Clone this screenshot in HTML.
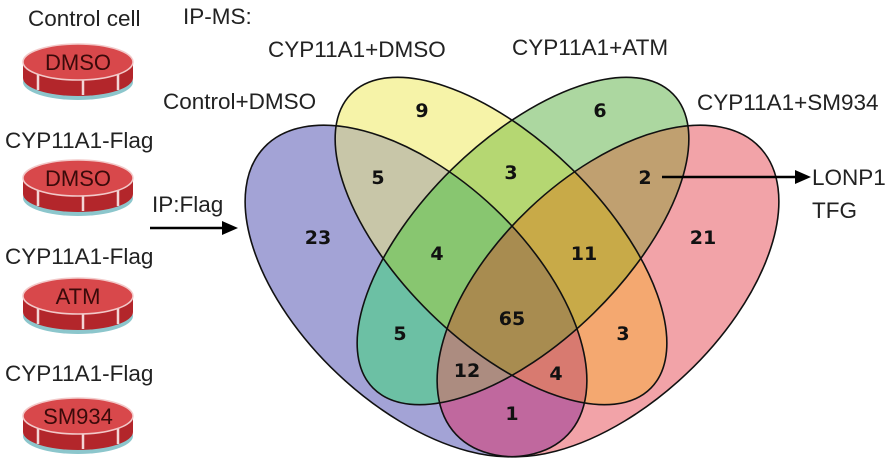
<!DOCTYPE html>
<html><head><meta charset="utf-8"><style>
html,body{margin:0;padding:0;background:#fff;overflow:hidden;width:893px;height:465px;}
svg{display:block;font-family:"Liberation Sans",sans-serif;}
.n{font-weight:bold;font-size:19px;text-anchor:middle;fill:#111;font-family:"DejaVu Sans","Liberation Sans",sans-serif;}
.l{font-size:22.5px;fill:#222;}
.d{font-size:22px;fill:#3a0a0a;text-anchor:middle;}
</style></head><body>
<svg width="893" height="465" viewBox="0 0 893 465" xmlns="http://www.w3.org/2000/svg">
<defs>
<g id="dish">
  <ellipse cx="0" cy="20" rx="55" ry="18" fill="#8cc6cc"/>
  <path d="M-55 0 L-55 16 A55 18 0 0 0 55 16 L55 0 Z" fill="#b3262b"/>
  <path d="M-40 12 L-40 28 M5 17 L5 33 M40 12 L40 28" stroke="#f3d6d6" stroke-width="2.5"/>
  <ellipse cx="0" cy="0" rx="55" ry="18" fill="#d8484b" stroke="#f2c9c9" stroke-width="1.5"/>
</g>
<ellipse id="eB" cx="416" cy="291" rx="209" ry="114" transform="rotate(43.4 416 291)"/>
<ellipse id="eY" cx="501" cy="241" rx="210" ry="101" transform="rotate(44.4 501 241)"/>
<ellipse id="eG" cx="523" cy="241" rx="210" ry="101" transform="rotate(-44.4 523 241)"/>
<ellipse id="eR" cx="608" cy="291" rx="209" ry="114" transform="rotate(-43.4 608 291)"/>
<clipPath id="cB"><use href="#eB"/></clipPath>
<clipPath id="cY"><use href="#eY"/></clipPath>
<clipPath id="cG"><use href="#eG"/></clipPath>
<clipPath id="cR"><use href="#eR"/></clipPath>
</defs>

<text class="l" x="28" y="26">Control cell</text>
<use href="#dish" x="78" y="62"/>
<text class="d" x="78" y="70">DMSO</text>

<text class="l" x="5" y="148">CYP11A1-Flag</text>
<use href="#dish" x="78" y="178"/>
<text class="d" x="78" y="186">DMSO</text>

<text class="l" x="5" y="264">CYP11A1-Flag</text>
<use href="#dish" x="78" y="296"/>
<text class="d" x="78" y="304">ATM</text>

<text class="l" x="5" y="381">CYP11A1-Flag</text>
<use href="#dish" x="78" y="416"/>
<text class="d" x="78" y="424">SM934</text>

<text class="l" x="183" y="24">IP-MS:</text>
<text class="l" x="152" y="212">IP:Flag</text>
<line x1="150" y1="228" x2="224" y2="228" stroke="#000" stroke-width="2.5"/>
<polygon points="238,228 222,221 222,235" fill="#000"/>

<text class="l" x="268" y="57">CYP11A1+DMSO</text>
<text class="l" x="512" y="55">CYP11A1+ATM</text>
<text class="l" x="163" y="109">Control+DMSO</text>
<text class="l" x="697" y="110">CYP11A1+SM934</text>

<!-- singles -->
<use href="#eB" fill="#a3a3d6"/>
<use href="#eR" fill="#f2a3a8"/>
<use href="#eY" fill="#f6f3a8"/>
<use href="#eG" fill="#acd7a0"/>
<!-- pairs -->
<g clip-path="url(#cB)"><use href="#eY" fill="#c8c6a8"/><use href="#eG" fill="#6cc0a4"/><use href="#eR" fill="#c0689e"/></g>
<g clip-path="url(#cY)"><use href="#eG" fill="#b5d772"/><use href="#eR" fill="#f4a870"/></g>
<g clip-path="url(#cG)"><use href="#eR" fill="#c0a070"/></g>
<!-- triples -->
<g clip-path="url(#cB)"><g clip-path="url(#cY)"><use href="#eG" fill="#88c670"/><use href="#eR" fill="#d87a70"/></g></g>
<g clip-path="url(#cB)"><g clip-path="url(#cG)"><use href="#eR" fill="#ac8c80"/></g></g>
<g clip-path="url(#cY)"><g clip-path="url(#cG)"><use href="#eR" fill="#c8aa48"/></g></g>
<!-- quad -->
<g clip-path="url(#cB)"><g clip-path="url(#cY)"><g clip-path="url(#cG)"><use href="#eR" fill="#a88c50"/></g></g></g>

<g fill="none" stroke="#111" stroke-width="1.6">
<use href="#eB"/><use href="#eY"/><use href="#eG"/><use href="#eR"/>
</g>

<text class="n" x="422" y="117">9</text>
<text class="n" x="600" y="117">6</text>
<text class="n" x="378" y="184">5</text>
<text class="n" x="511" y="179">3</text>
<text class="n" x="645" y="184">2</text>
<text class="n" x="318" y="244">23</text>
<text class="n" x="437" y="260">4</text>
<text class="n" x="584" y="260">11</text>
<text class="n" x="703" y="244">21</text>
<text class="n" x="512" y="325">65</text>
<text class="n" x="400" y="340">5</text>
<text class="n" x="623" y="340">3</text>
<text class="n" x="467" y="377">12</text>
<text class="n" x="556" y="380">4</text>
<text class="n" x="512" y="420">1</text>

<line x1="662" y1="177" x2="796" y2="177" stroke="#000" stroke-width="2.5"/>
<polygon points="811,177 795,170 795,184" fill="#000"/>
<text class="l" x="812" y="185">LONP1</text>
<text class="l" x="812" y="218">TFG</text>
</svg>
</body></html>
